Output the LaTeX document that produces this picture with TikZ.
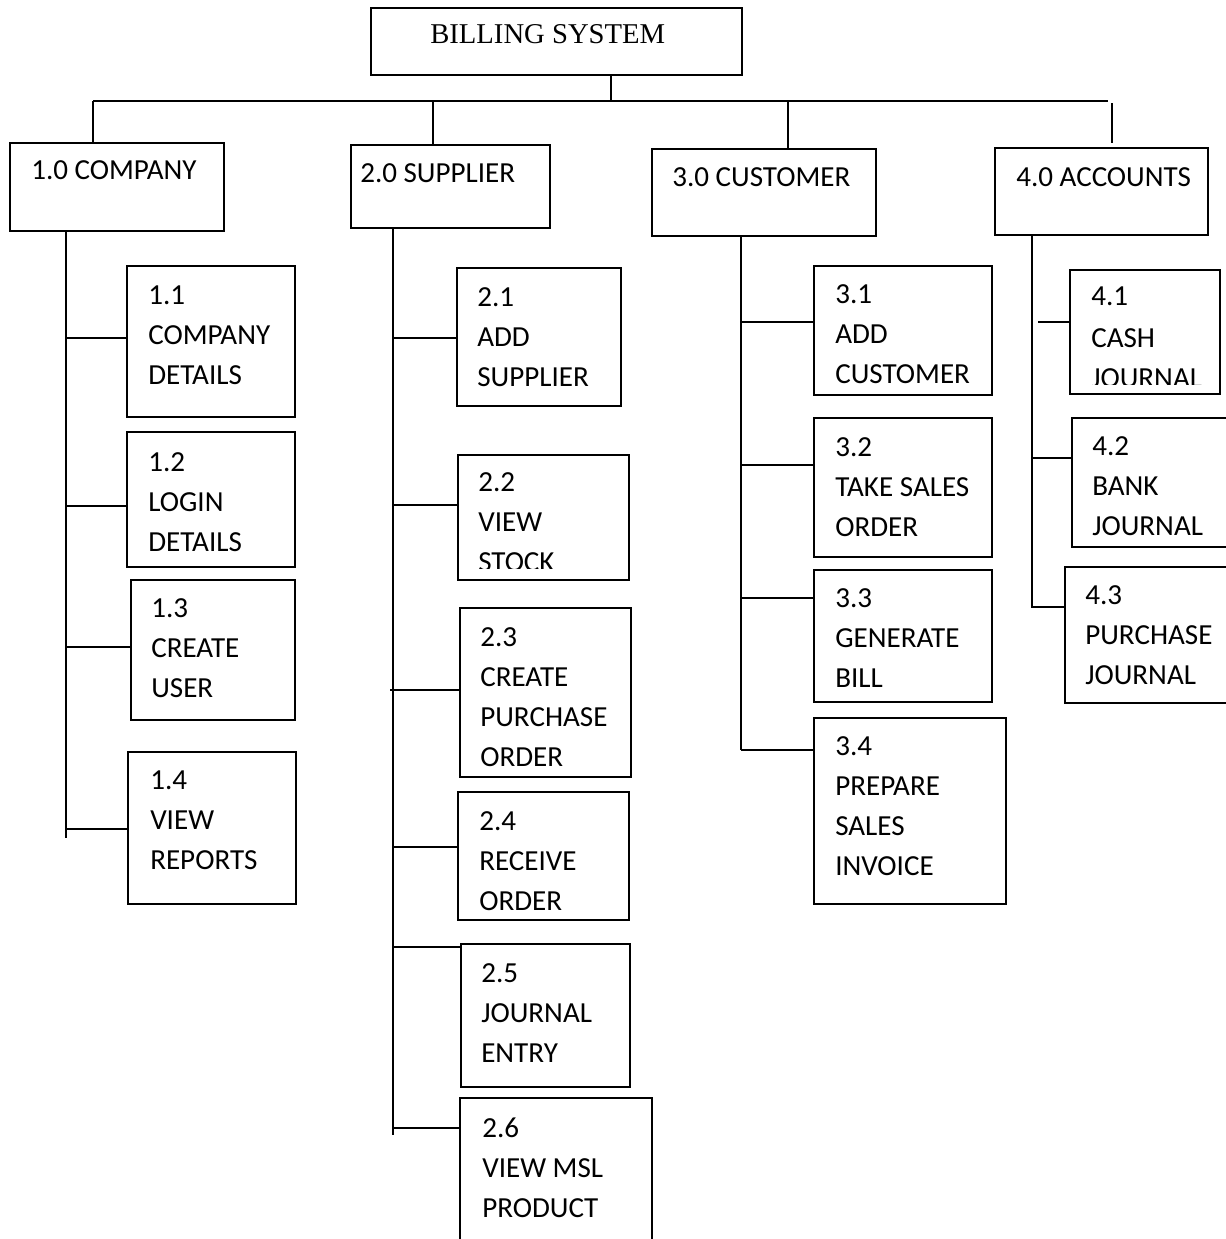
\documentclass[tikz,border=0pt]{standalone}
\usepackage{fontspec}
\setmainfont{Carlito}
\newfontfamily\titlefont{Liberation Serif}
\usetikzlibrary{fit}
\tikzset{
  box/.style={draw, line width=1.4pt, inner sep=0pt},
  openbox/.style={inner sep=0pt},
  edge/.style={line width=1.4pt},
  txt/.style={anchor=base west, inner sep=0pt, font=\fontsize{21.8}{26}\selectfont},
}
% lines of a label: name, left x, first baseline, list of lines
\newcommand\labellines[4]{%
  \foreach \t [count=\i] in {#4} {\node[txt] (#1-\i) at (#2,{#3+(\i-1)*40}) {\t};}}
\begin{document}
\begin{tikzpicture}[x=0.75pt,y=-0.75pt]
\useasboundingbox (0,0) rectangle (1226,1239);

% root
\node[box, fit={(371,8) (742,75)}] (b00) {};
\node[txt, font=\titlefont\fontsize{21.5}{26}\selectfont] (t00) at (430,43) {BILLING SYSTEM};

% first level
\node[box, fit={(10,143) (224,231)}] (b10) {};
\node[box, fit={(351,145) (550,228)}] (b20) {};
\node[box, fit={(652,149) (876,236)}] (b30) {};
\node[box, fit={(995,148) (1208,235)}] (b40) {};
\node[txt] (t10) at (31,179) {1.0 COMPANY};
\node[txt] (t20) at (360,182) {2.0 SUPPLIER};
\node[txt] (t30) at (672,186) {3.0 CUSTOMER};
\node[txt] (t40) at (1016,186) {4.0 ACCOUNTS};

% bus from the root to the four modules
\coordinate (busL) at (93,101);
\coordinate (busR) at (1108,101);
\coordinate (busM) at (611,101);
\coordinate (d4) at (1112,103);
\draw[edge] (b00.south -| busM) -- (busM);
\draw[edge] (busL) -- (busR);
\draw[edge] (busL) -- (b10.north -| busL);
\draw[edge] (433,101) -- (b20.north -| 433,0);
\draw[edge] (788,101) -- (b30.north -| 788,0);
\draw[edge] (d4) -- (1112,143);

% company
\node[box, fit={(127,266) (295,417)}] (b11) {};
\node[box, fit={(127,432) (295,567)}] (b12) {};
\node[box, fit={(131,580) (295,720)}] (b13) {};
\node[box, fit={(128,752) (296,904)}] (b14) {};
\labellines{t11}{148}{304}{1.1,COMPANY,DETAILS}
\labellines{t12}{148}{471}{1.2,LOGIN,DETAILS}
\labellines{t13}{151}{617}{1.3,CREATE,USER}
\labellines{t14}{150}{789}{1.4,VIEW,REPORTS}
\coordinate (s1) at (66,838);
\draw[edge] (b10.south -| s1) -- (s1);
\draw[edge] (s1 |- 0,338) -- (b11.west |- 0,338);
\draw[edge] (s1 |- 0,506) -- (b12.west |- 0,506);
\draw[edge] (s1 |- 0,647) -- (b13.west |- 0,647);
\draw[edge] (s1 |- 0,829) -- (b14.west |- 0,829);

% supplier
\node[box, fit={(457,268) (621,406)}] (b21) {};
\node[box, fit={(458,455) (629,580)}] (b22) {};
\node[box, fit={(460,608) (631,777)}] (b23) {};
\node[box, fit={(458,792) (629,920)}] (b24) {};
\node[box, fit={(461,944) (630,1087)}] (b25) {};
\node[openbox, fit={(460,1098) (652,1239)}] (b26) {};
\draw[edge] (b26.south west) -- (b26.north west) -- (b26.north east) -- (b26.south east);
\labellines{t21}{477}{306}{2.1,ADD,SUPPLIER}
\labellines{t22}{478}{491}{2.2,VIEW}
\begin{scope}
  \clip (470,540) rectangle (620,568);
  \node[txt] (t22-3) at (478,571) {STOCK};
\end{scope}
\labellines{t23}{480}{646}{2.3,CREATE,PURCHASE,ORDER}
\labellines{t24}{479}{830}{2.4,RECEIVE,ORDER}
\labellines{t25}{481}{982}{2.5,JOURNAL,ENTRY}
\labellines{t26}{482}{1137}{2.6,VIEW MSL,PRODUCT}
\coordinate (s2) at (393,1135);
\draw[edge] (b20.south -| s2) -- (s2);
\draw[edge] (s2 |- 0,338) -- (b21.west |- 0,338);
\draw[edge] (s2 |- 0,505) -- (b22.west |- 0,505);
\draw[edge] (390,690) -- (b23.west |- 0,690);
\draw[edge] (s2 |- 0,847) -- (b24.west |- 0,847);
\draw[edge] (s2 |- 0,947) -- (b25.west |- 0,947);
\draw[edge] (s2 |- 0,1128) -- (b26.west |- 0,1128);

% customer
\node[box, fit={(814,266) (992,395)}] (b31) {};
\node[box, fit={(814,418) (992,557)}] (b32) {};
\node[box, fit={(814,570) (992,702)}] (b33) {};
\node[box, fit={(814,718) (1006,904)}] (b34) {};
\labellines{t31}{835}{303}{3.1,ADD,CUSTOMER}
\labellines{t32}{835}{456}{3.2,TAKE SALES,ORDER}
\labellines{t33}{835}{607}{3.3,GENERATE,BILL}
\labellines{t34}{835}{755}{3.4,PREPARE,SALES,INVOICE}
\coordinate (s3) at (741,750);
\draw[edge] (b30.south -| s3) -- (s3);
\draw[edge] (s3 |- 0,322) -- (b31.west |- 0,322);
\draw[edge] (s3 |- 0,465) -- (b32.west |- 0,465);
\draw[edge] (s3 |- 0,598) -- (b33.west |- 0,598);
\draw[edge] (s3) -- (b34.west |- s3);

% accounts
\node[box, fit={(1070,270) (1220,394)}] (b41) {};
\node[openbox, fit={(1072,418) (1226,547)}] (b42) {};
\node[openbox, fit={(1065,567) (1226,703)}] (b43) {};
\draw[edge] (b42.north east) -- (b42.north west) -- (b42.south west) -- (b42.south east);
\draw[edge] (b43.north east) -- (b43.north west) -- (b43.south west) -- (b43.south east);
\node[txt] (t41-1) at (1091,305) {4.1};
\node[txt] (t41-2) at (1091,347) {CASH};
\begin{scope}
  \clip (1080,360) rectangle (1215,384);
  \node[txt] (t41-3) at (1091,387) {JOURNAL};
\end{scope}
\labellines{t42}{1092}{455}{4.2,BANK,JOURNAL}
\labellines{t43}{1085}{604}{4.3,PURCHASE,JOURNAL}
\coordinate (s4) at (1032,608);
\draw[edge] (b40.south -| s4) -- (s4);
\draw[edge] (1038,322) -- (b41.west |- 0,322);
\draw[edge] (s4 |- 0,458) -- (b42.west |- 0,458);
\draw[edge] (s4 |- 0,607) -- (b43.west |- 0,607);
\end{tikzpicture}
\end{document}
